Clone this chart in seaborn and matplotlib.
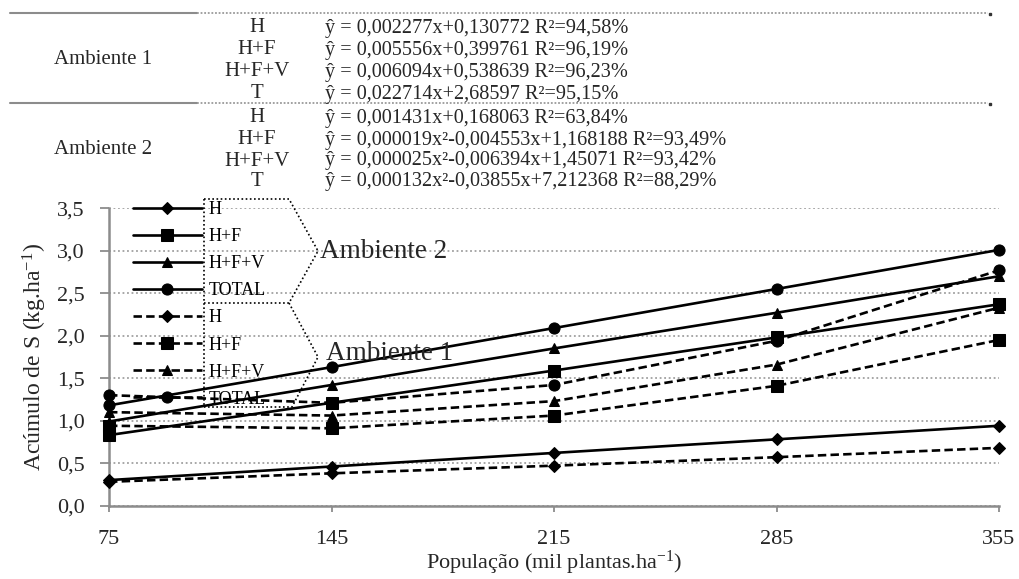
import matplotlib
matplotlib.use("Agg")
import matplotlib.pyplot as plt
import seaborn as sns
from matplotlib.lines import Line2D

# ---------------- data ----------------
populacao = [75, 145, 215, 285, 355]
series_labels = ["H", "H+F", "H+F+V", "TOTAL"]
# solid lines (legend: Ambiente 2)
sol_h = [0.30, 0.46, 0.62, 0.78, 0.94]
sol_hf = [0.83, 1.21, 1.59, 1.98, 2.37]
sol_hfv = [0.99, 1.42, 1.85, 2.27, 2.70]
sol_total = [1.18, 1.63, 2.09, 2.55, 3.01]
# dashed lines (legend: Ambiente 1)
das_h = [0.28, 0.38, 0.47, 0.57, 0.68]
das_hf = [0.94, 0.91, 1.06, 1.41, 1.95]
das_hfv = [1.10, 1.06, 1.23, 1.66, 2.33]
das_total = [1.30, 1.21, 1.42, 1.94, 2.77]
yticks = [0.0, 0.5, 1.0, 1.5, 2.0, 2.5, 3.0, 3.5]
ytick_labels = ["0,0", "0,5", "1,0", "1,5", "2,0", "2,5", "3,0", "3,5"]
xtick_labels = ["75", "145", "215", "285", "355"]
amb1_rows = ["H", "H+F", "H+F+V", "T"]
amb1_eqs = ["ŷ = 0,002277x+0,130772 R²=94,58%",
            "ŷ = 0,005556x+0,399761 R²=96,19%",
            "ŷ = 0,006094x+0,538639 R²=96,23%",
            "ŷ = 0,022714x+2,68597 R²=95,15%"]
amb2_rows = ["H", "H+F", "H+F+V", "T"]
amb2_eqs = ["ŷ = 0,001431x+0,168063 R²=63,84%",
            "ŷ = 0,000019x²-0,004553x+1,168188 R²=93,49%",
            "ŷ = 0,000025x²-0,006394x+1,45071 R²=93,42%",
            "ŷ = 0,000132x²-0,03855x+7,212368 R²=88,29%"]

# ---------------- style ----------------
sns.set_theme(style="white")
plt.rcParams["font.family"] = ["Liberation Serif", "DejaVu Serif"]
plt.rcParams["mathtext.fontset"] = "custom"
plt.rcParams["mathtext.rm"] = "Liberation Serif"
plt.rcParams["mathtext.it"] = "Liberation Serif:italic"
plt.rcParams["mathtext.bf"] = "Liberation Serif:bold"

W, H = 1019, 579
fig = plt.figure(figsize=(W / 100, H / 100), dpi=100)
fig.patch.set_facecolor("white")


def fx(x):
    return x / W


def fy(y):
    return 1 - y / H


ax = fig.add_axes([fx(109), fy(505.6), fx(999) - fx(109), fy(208.3) - fy(505.6)])
ax.set_facecolor("white")

markers = ["D", "s", "^", "o"]
msizes = [6.5, 8, 7.5, 8]
lw = 1.9
solid_sets = [sol_h, sol_hf, sol_hfv, sol_total]
dashed_sets = [das_h, das_hf, das_hfv, das_total]

handles = []
for vals, mk, ms, lab in zip(solid_sets, markers, msizes, series_labels):
    sns.lineplot(x=populacao, y=vals, ax=ax, color="black", marker=mk,
                 markersize=ms, markeredgecolor="black", linewidth=lw,
                 clip_on=False, zorder=3)
    ln = ax.lines[-1]
    ln.set_label(lab)
    handles.append(ln)
for vals, mk, ms, lab in zip(dashed_sets, markers, msizes, series_labels):
    sns.lineplot(x=populacao, y=vals, ax=ax, color="black", marker=mk,
                 markersize=ms, markeredgecolor="black", linewidth=lw,
                 clip_on=False, zorder=3)
    ln = ax.lines[-1]
    ln.set_linestyle((0, (3.2, 1.6)))
    ln.set_label(lab)
    handles.append(ln)

ax.set_xlim(75, 355)
ax.set_ylim(0, 3.5)
ax.set_xticks(populacao)
ax.set_xticklabels(xtick_labels)
ax.set_yticks(yticks)
ax.set_yticklabels(ytick_labels)
ax.yaxis.grid(True, linestyle=(0, (1, 1.5)), color="#a0a0a0", linewidth=1.3)
ax.xaxis.grid(False)
ax.set_axisbelow(True)
for s in ["top", "right"]:
    ax.spines[s].set_visible(False)
for s in ["left", "bottom"]:
    ax.spines[s].set_color("#8c8c8c")
    ax.spines[s].set_linewidth(1.8)
ax.tick_params(axis="y", direction="out", length=6.5, width=1.3,
               color="#8c8c8c", pad=11, labelsize=16, left=True)
ax.tick_params(axis="x", direction="out", length=4.3, width=1.3,
               color="#8c8c8c", pad=13, labelsize=16, bottom=True)
ax.set_xlabel("População (mil plantas.ha$^{-1}$)", fontsize=16, labelpad=0)
ax.set_ylabel("Acúmulo de S (kg.ha$^{-1}$)", fontsize=17, labelpad=6)

leg = ax.legend(handles=handles, labels=series_labels * 2, loc="upper left",
                bbox_to_anchor=(fx(133), fy(201)), bbox_transform=fig.transFigure,
                frameon=False, fontsize=13, handlelength=3.8, handletextpad=0.4,
                labelspacing=0.56, borderpad=0, borderaxespad=0)
for t in leg.get_texts():
    t.set_color("black")

# dotted brackets
dot = dict(color="black", linestyle=(0, (1, 1.5)), linewidth=1.2)
fig.add_artist(Line2D([fx(204), fx(204)], [fy(199), fy(407)], **dot))
fig.add_artist(Line2D([fx(204), fx(289), fx(318), fx(289), fx(204)],
                      [fy(199), fy(199), fy(251), fy(303), fy(303)], **dot))
fig.add_artist(Line2D([fx(289), fx(318), fx(292), fx(204)],
                      [fy(303), fy(357), fy(407), fy(407)], **dot))
fig.text(fx(320), fy(251), "Ambiente 2", fontsize=19.5, va="center", ha="left")
fig.text(fx(326), fy(354), "Ambiente 1", fontsize=19.5, va="center", ha="left")

# top table
for yl in (13, 103):
    fig.add_artist(Line2D([fx(10), fx(197)], [fy(yl), fy(yl)], color="#8c8c8c", linewidth=1.5))
    fig.add_artist(Line2D([fx(197), fx(988)], [fy(yl), fy(yl)], color="#9a9a9a",
                          linewidth=1.3, linestyle=(0, (1, 1))))
    fig.add_artist(Line2D([fx(990)], [fy(yl + 1)], marker="s", markersize=2,
                          color="#333333", linestyle="none"))

fig.text(fx(103), fy(60), "Ambiente 1", fontsize=15, ha="center", va="center")
fig.text(fx(103), fy(150), "Ambiente 2", fontsize=15, ha="center", va="center")
for rows, eqs, ys in ((amb1_rows, amb1_eqs, [28, 50, 72, 94]),
                      (amb2_rows, amb2_eqs, [118, 140, 161, 182])):
    for r, e, yy in zip(rows, eqs, ys):
        fig.text(fx(257), fy(yy), r, fontsize=15, ha="center", va="center")
        fig.text(fx(325), fy(yy), e, fontsize=14.6, ha="left", va="center")

fig.savefig("out.png", dpi=100, facecolor="white")
